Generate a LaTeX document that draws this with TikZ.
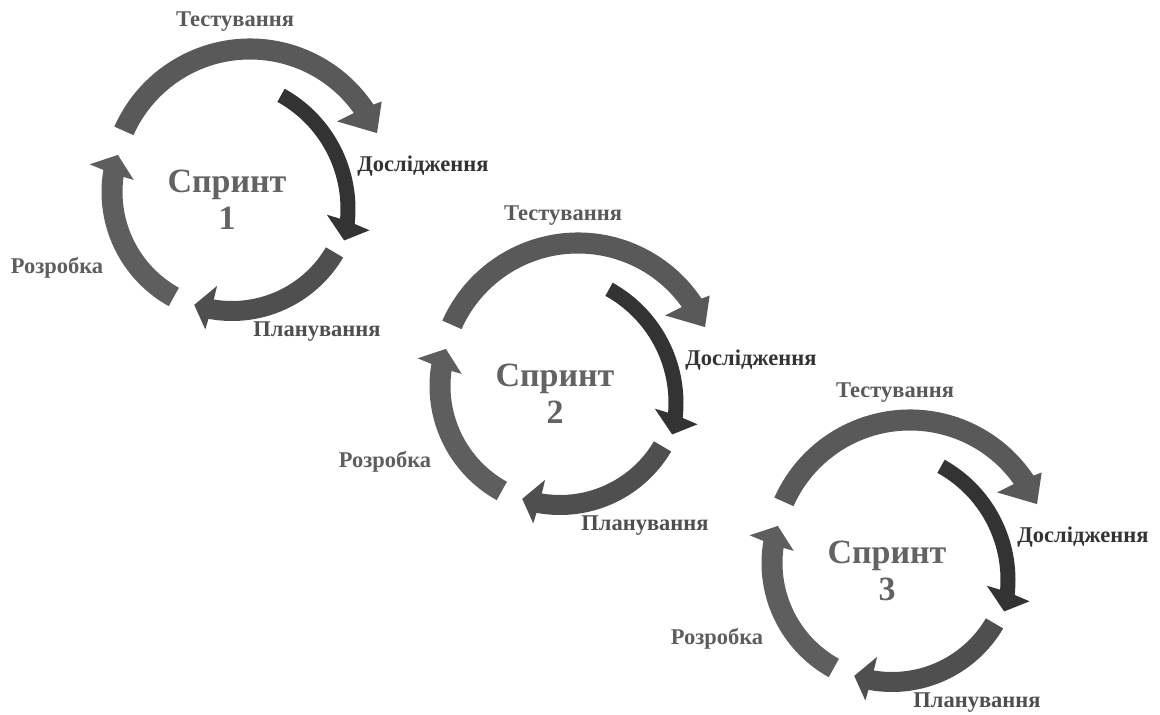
\documentclass[tikz,border=0pt]{standalone}
\usepackage{fontspec}
\setmainfont{Liberation Serif}
\usetikzlibrary{calc}

\definecolor{arctop}{HTML}{595959}
\definecolor{arcleft}{HTML}{5E5E5E}
\definecolor{arcbot}{HTML}{4F4F4F}
\definecolor{arcdark}{HTML}{333333}
\definecolor{sprintgray}{HTML}{636363}

\begin{document}
\begin{tikzpicture}[x=1pt, y=1pt,
  lbl/.style={font=\bfseries\fontsize{22.5}{22.5}\selectfont, inner sep=0pt},
  ttl/.style={font=\bfseries\fontsize{34}{37}\selectfont, align=center, text=sprintgray, inner sep=0pt}]
\useasboundingbox (0,0) rectangle (1160,-715);

\foreach \n/\ox/\oy in {1/232/192, 2/560/386, 3/892/563}{
  \coordinate (O\n) at (\ox,-\oy);

  % centre shift, radius, width, tail, inner barb, outer barb, tip, barb depths, colour
  \foreach \dx/\dy/\rr/\ww/\sa/\ai/\ao/\ta/\hi/\ho/\col in {
      18/5/138/21/156/37/33/23/29/19/arctop,
      -14/-17/130/15/61/-3/-8/-14/21/23/arcdark,
      0/0/120/21/241/173/169/162/21/25/arcleft,
      0/0/119/20/-30.5/-99/-101/-108.5/24/21/arcbot}{
    \coordinate (c) at ($(O\n)+(\dx,\dy)$);
    \pgfmathsetmacro{\ro}{\rr+\ww/2}
    \pgfmathsetmacro{\ri}{\rr-\ww/2}
    \pgfmathsetmacro{\bo}{\rr+\ho}
    \pgfmathsetmacro{\bi}{\rr-\hi}
    \pgfmathsetmacro{\eo}{\ai+(\ao-\ai)*(\hi+\ww/2)/(\hi+\ho)}
    \pgfmathsetmacro{\ei}{\ai+(\ao-\ai)*(\hi-\ww/2)/(\hi+\ho)}
    \fill[\col]
      ([shift={(c)}]\sa:\ro pt) arc[start angle=\sa, end angle=\eo, radius=\ro pt]
      -- ([shift={(c)}]\ao:\bo pt)
      -- ([shift={(c)}]\ta:\rr pt)
      -- ([shift={(c)}]\ai:\bi pt)
      -- ([shift={(c)}]\ei:\ri pt) arc[start angle=\ei, end angle=\sa, radius=\ri pt]
      -- cycle;
  }

  \node[lbl, text=arctop] (test\n) at ($(O\n)+(3,170)$) {Тестування};
  \node[lbl, text=arcdark] (dosl\n) at ($(O\n)+(191,26)$) {Дослідження};
  \node[lbl, text=arcleft] (rozr\n) at ($(O\n)+(-175,-76)$) {Розробка};
  \node[lbl, text=arcbot] (plan\n) at ($(O\n)+(85,-140)$) {Планування};
  \node[ttl] (sprint\n) at ($(O\n)+(-5,-8)$) {Спринт\\\n};
}
\end{tikzpicture}
\end{document}
